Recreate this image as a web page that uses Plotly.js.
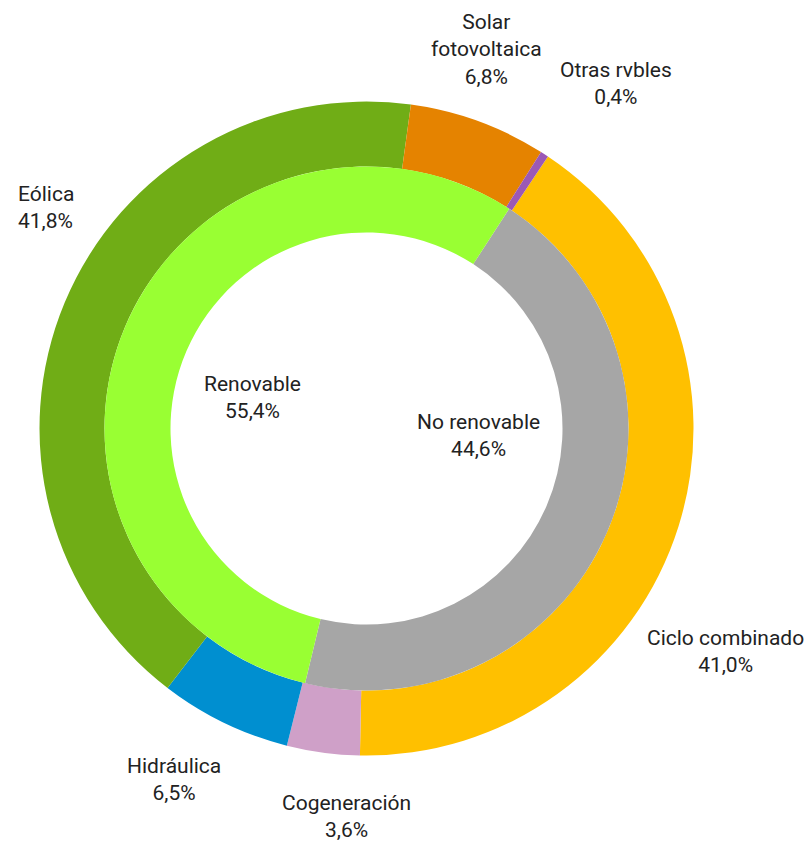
<!DOCTYPE html>
<html>
<head>
<meta charset="utf-8">
<script src="https://cdn.plot.ly/plotly-3.0.1.min.js"></script>
<style>html,body{margin:0;padding:0;background:#fff;}#chart{width:805px;height:842px;}</style>
</head>
<body>
<div id="chart"></div>
<script>
// Outer ring (technologies)
var outerLabels = ["Ciclo combinado", "Cogeneración", "Hidráulica", "Eólica", "Solar fotovoltaica", "Otras rvbles"];
var outerValues = [41.0, 3.6, 6.5, 41.8, 6.8, 0.4];
var outerColors = ["#FFC000", "#CFA0C8", "#008FD0", "#70AD16", "#E58300", "#9B59B6"];
// Inner ring (groups)
var innerLabels = ["No renovable", "Renovable"];
var innerValues = [44.6, 55.4];
var innerColors = ["#A6A6A6", "#99FF33"];

// label line-break display text
var outerDisplay = ["Ciclo combinado", "Cogeneración", "Hidráulica", "Eólica", "Solar<br>fotovoltaica", "Otras rvbles"];
var innerDisplay = ["No renovable", "Renovable"];

// annotation placement (pixels), layout only
var W = 805, H = 842;
var outerPos = [[725, 651, "center"], [346, 816, "center"], [174, 779, "center"], [16, 208, "left"], [486, 50, "center"], [616, 83, "center"]];
var innerPos = [[478, 435, "center"], [252, 397, "center"]];

function fmt(v) { return v.toFixed(1).replace(".", ",") + "%"; }

var annotations = [];
function addAnn(text, pos) {
  annotations.push({
    text: text, xref: "paper", yref: "paper",
    x: pos[0] / W, y: 1 - pos[1] / H,
    xanchor: pos[2], yanchor: "middle", align: pos[2],
    showarrow: false,
    font: {family: "Roboto, sans-serif", size: 21, color: "#222222"}
  });
}
outerLabels.forEach(function (l, i) { addAnn(outerDisplay[i] + "<br>" + fmt(outerValues[i]), outerPos[i]); });
innerLabels.forEach(function (l, i) { addAnn(innerDisplay[i] + "<br>" + fmt(innerValues[i]), innerPos[i]); });

function px(x) { return x / W; }
function py(y) { return 1 - y / H; }

var cx = 366.5, cy = 428.5, rOut = 327, rIn = 262, rHole = 196;

var data = [
  {
    type: "pie", labels: outerLabels, values: outerValues, sort: false,
    direction: "clockwise", rotation: 33.7, hole: rIn / rOut,
    marker: {colors: outerColors, line: {width: 0}},
    textinfo: "none", hoverinfo: "none",
    domain: {x: [px(cx - rOut), px(cx + rOut)], y: [py(cy + rOut), py(cy - rOut)]}
  },
  {
    type: "pie", labels: innerLabels, values: innerValues, sort: false,
    direction: "clockwise", rotation: 33, hole: rHole / rIn,
    marker: {colors: innerColors, line: {width: 0}},
    textinfo: "none", hoverinfo: "none",
    domain: {x: [px(cx - rIn), px(cx + rIn)], y: [py(cy + rIn), py(cy - rIn)]}
  }
];

var layout = {
  width: W, height: H,
  margin: {l: 0, r: 0, t: 0, b: 0},
  paper_bgcolor: "#ffffff",
  showlegend: false,
  annotations: annotations
};

Plotly.newPlot("chart", data, layout, {displayModeBar: false, staticPlot: true});
</script>
</body>
</html>
